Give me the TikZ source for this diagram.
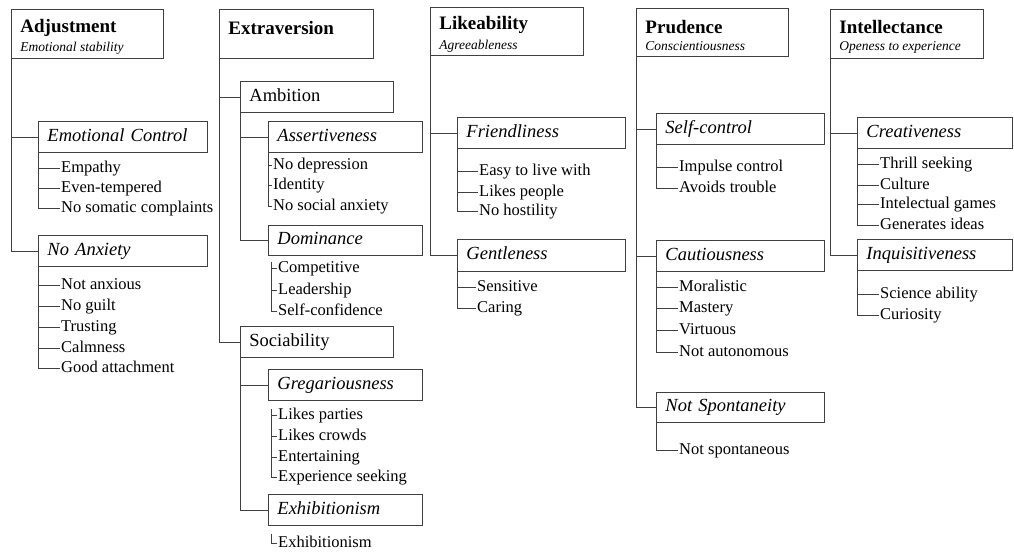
\documentclass[tikz,border=0pt]{standalone}
\usepackage{fontspec}
\setmainfont{Liberation Serif}
\usepackage{tikz}

\tikzset{
  headbox/.style={draw=black!75, line width=0.9pt, anchor=north west, minimum height=49pt,
    text width=#1, inner xsep=9pt, inner ysep=3pt, align=left},
  facetbox/.style={draw=black!75, line width=0.9pt, anchor=north west, minimum height=31pt,
    text width=#1, inner xsep=9pt, inner ysep=2pt, align=left, text height=13pt, text depth=4pt,
    font=\fontsize{18.5}{20}\selectfont\itshape},
  item/.style={anchor=west, inner sep=1pt, text height=11.5pt, text depth=3.5pt,
    font=\fontsize{16.5}{18}\selectfont},
  branch/.style={draw=black!75, line width=0.9pt}
}
\newcommand{\headtitle}[2]{{\fontsize{19}{22}\selectfont\bfseries\rule{0pt}{19pt}#1}\\[5pt]
  {\fontsize{13.5}{15}\selectfont\itshape #2}}

\begin{document}
\begin{tikzpicture}[x=1pt, y=-1pt]
    \useasboundingbox (0, 0) rectangle (1014, 554);

    % Adjustment
    \node[headbox=134pt] (adj) at (11, 9) {\headtitle{Adjustment}{Emotional stability}};
    \node[facetbox=151pt] (emo) at (38, 121) {Emotional Control};
    \node[item] (emo1) at (60, 168) {Empathy};
    \node[item] (emo2) at (60, 188) {Even-tempered};
    \node[item] (emo3) at (60, 208) {No somatic complaints};
    \node[facetbox=151pt] (anx) at (38, 235) {No Anxiety};
    \node[item] (anx1) at (60, 285) {Not anxious};
    \node[item] (anx2) at (60, 306) {No guilt};
    \node[item] (anx3) at (60, 327) {Trusting};
    \node[item] (anx4) at (60, 348) {Calmness};
    \node[item] (anx5) at (60, 368) {Good attachment};

    \path[branch] (adj.south west) |- (emo.west) (adj.south west) |- (anx.west);
    \path[branch] (emo.south west) |- (emo1.west) (emo.south west) |- (emo2.west)
        (emo.south west) |- (emo3.west);
    \path[branch] (anx.south west) |- (anx1.west) (anx.south west) |- (anx2.west)
        (anx.south west) |- (anx3.west) (anx.south west) |- (anx4.west)
        (anx.south west) |- (anx5.west);

    % Extraversion
    \node[headbox=136pt] (ext) at (219, 9) {\headtitle{Extraversion}{\phantom{x}}};
    \node[facetbox=135pt, font=\fontsize{18.5}{20}\selectfont] (amb) at (240, 81) {Ambition};
    \node[facetbox=136pt] (ass) at (268, 121) {Assertiveness};
    \node[item] (ass1) at (272, 165) {No depression};
    \node[item] (ass2) at (272, 185) {Identity};
    \node[item] (ass3) at (272, 206) {No social anxiety};
    \node[facetbox=136pt, minimum height=30pt] (dom) at (268, 225) {Dominance};
    \node[item] (dom1) at (277, 268) {Competitive};
    \node[item] (dom2) at (277, 290) {Leadership};
    \node[item] (dom3) at (277, 311) {Self-confidence};
    \node[facetbox=135pt, font=\fontsize{18.5}{20}\selectfont] (soc) at (240, 326) {Sociability};
    \node[facetbox=136pt] (gre) at (268, 369) {Gregariousness};
    \node[item] (gre1) at (277, 415) {Likes parties};
    \node[item] (gre2) at (277, 436) {Likes crowds};
    \node[item] (gre3) at (277, 457) {Entertaining};
    \node[item] (gre4) at (277, 477) {Experience seeking};
    \node[facetbox=136pt] (exh) at (268, 494) {Exhibitionism};
    \node[item] (exh1) at (277, 543) {Exhibitionism};

    \path[branch] (ext.south west) |- (amb.west) (ext.south west) |- (soc.west);
    \path[branch] (amb.south west) |- (ass.west) (amb.south west) |- (dom.west);
    \path[branch] (soc.south west) |- (gre.west) (soc.south west) |- (exh.west);
    \path[branch] (ass.south west) |- (ass1.west) (ass.south west) |- (ass2.west)
        (ass.south west) |- (ass3.west);
    \coordinate (domroot) at ([xshift=3pt, yshift=-6pt]dom.south west);
    \path[branch] (domroot) |- (dom1.west) (domroot) |- (dom2.west) (domroot) |- (dom3.west);
    \coordinate (greroot) at ([xshift=3pt, yshift=-8pt]gre.south west);
    \path[branch] (greroot) |- (gre1.west) (greroot) |- (gre2.west)
        (greroot) |- (gre3.west) (greroot) |- (gre4.west);
    \coordinate (exhroot) at ([xshift=3pt, yshift=-8pt]exh.south west);
    \path[branch] (exhroot) |- (exh1.west);

    % Likeability
    \node[headbox=135pt, minimum height=48pt] (lik) at (430, 7) {\headtitle{Likeability}{Agreeableness}};
    \node[facetbox=150pt] (fri) at (457, 117) {Friendliness};
    \node[item] (fri1) at (478, 171) {Easy to live with};
    \node[item] (fri2) at (478, 192) {Likes people};
    \node[item] (fri3) at (478, 211) {No hostility};
    \node[facetbox=150pt, minimum height=32pt] (gen) at (457, 239) {Gentleness};
    \node[item] (gen1) at (476, 287) {Sensitive};
    \node[item] (gen2) at (476, 308) {Caring};

    \path[branch] (lik.south west) |- (fri.west) (lik.south west) |- (gen.west);
    \path[branch] (fri.south west) |- (fri1.west) (fri.south west) |- (fri2.west)
        (fri.south west) |- (fri3.west);
    \path[branch] (gen.south west) |- (gen1.west) (gen.south west) |- (gen2.west);

    % Prudence
    \node[headbox=134pt, minimum height=48pt] (pru) at (636, 8) {\headtitle{Prudence}{Conscientiousness}};
    \node[facetbox=150pt] (sel) at (656, 113) {Self-control};
    \node[item] (sel1) at (678, 167) {Impulse control};
    \node[item] (sel2) at (678, 188) {Avoids trouble};
    \node[facetbox=150pt] (cau) at (656, 240) {Cautiousness};
    \node[item] (cau1) at (678, 287) {Moralistic};
    \node[item] (cau2) at (678, 308) {Mastery};
    \node[item] (cau3) at (678, 330) {Virtuous};
    \node[item] (cau4) at (678, 352) {Not autonomous};
    \node[facetbox=150pt, minimum height=30pt] (nsp) at (656, 392) {Not Spontaneity};
    \node[item] (nsp1) at (678, 450) {Not spontaneous};

    \path[branch] (pru.south west) |- (sel.west) (pru.south west) |- (cau.west)
        (pru.south west) |- (nsp.west);
    \path[branch] (sel.south west) |- (sel1.west) (sel.south west) |- (sel2.west);
    \path[branch] (cau.south west) |- (cau1.west) (cau.south west) |- (cau2.west)
        (cau.south west) |- (cau3.west) (cau.south west) |- (cau4.west);
    \path[branch] (nsp.south west) |- (nsp1.west);

    % Intellectance
    \node[headbox=135pt] (int) at (830, 9) {\headtitle{Intellectance}{Openess to experience}};
    \node[facetbox=137pt] (cre) at (857, 117) {Creativeness};
    \node[item] (cre1) at (879, 164) {Thrill seeking};
    \node[item] (cre2) at (879, 185) {Culture};
    \node[item] (cre3) at (879, 204) {Intelectual games};
    \node[item] (cre4) at (879, 225) {Generates ideas};
    \node[facetbox=137pt] (inq) at (857, 239) {Inquisitiveness};
    \node[item] (inq1) at (879, 294) {Science ability};
    \node[item] (inq2) at (879, 315) {Curiosity};

    \path[branch] (int.south west) |- (cre.west) (int.south west) |- (inq.west);
    \path[branch] (cre.south west) |- (cre1.west) (cre.south west) |- (cre2.west)
        (cre.south west) |- (cre3.west) (cre.south west) |- (cre4.west);
    \path[branch] (inq.south west) |- (inq1.west) (inq.south west) |- (inq2.west);
\end{tikzpicture}
\end{document}
